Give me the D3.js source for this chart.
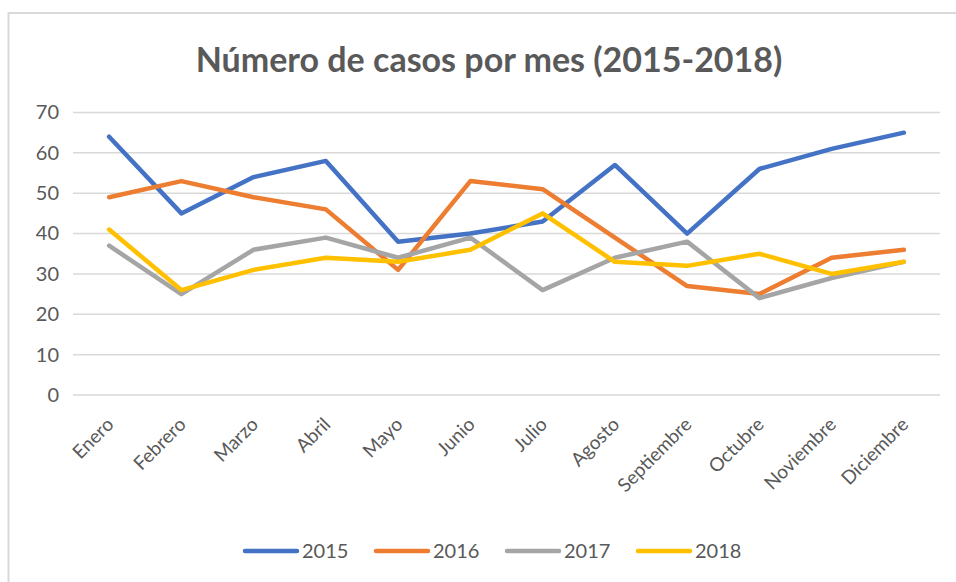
<!DOCTYPE html>
<html>
<head>
<meta charset="utf-8">
<script src="https://cdn.jsdelivr.net/npm/d3@7"></script>
<style>
  html, body { margin: 0; padding: 0; background: #fff; }
  svg { display: block; font-family: Lato, "Open Sans", sans-serif; }
</style>
</head>
<body>
<div id="chart"></div>
<script>
// data
const months = ["Enero", "Febrero", "Marzo", "Abril", "Mayo", "Junio", "Julio",
                "Agosto", "Septiembre", "Octubre", "Noviembre", "Diciembre"];
const years = ["2015", "2016", "2017", "2018"];
const values2015 = [64, 45, 54, 58, 38, 40, 43, 57, 40, 56, 61, 65];
const values2016 = [49, 53, 49, 46, 31, 53, 51, 39, 27, 25, 34, 36];
const values2017 = [37, 25, 36, 39, 34, 39, 26, 34, 38, 24, 29, 33];
const values2018 = [41, 26, 31, 34, 33, 36, 45, 33, 32, 35, 30, 33];
const yTicks = [0, 10, 20, 30, 40, 50, 60, 70];
const colors = ["#4472C4", "#ED7D31", "#A5A5A5", "#FFC000"];

const series = [values2015, values2016, values2017, values2018]
  .map((v, i) => ({ name: years[i], color: colors[i], values: v }));

const width = 956, height = 582;
const textColor = "#595959";

const svg = d3.select("#chart").append("svg")
  .attr("width", width)
  .attr("height", height);

// outer frame, runs off the right and bottom edges like the original
svg.append("rect")
  .attr("x", 8.5).attr("y", 13)
  .attr("width", 960).attr("height", 580)
  .attr("fill", "#fff")
  .attr("stroke", "#d9d9d9")
  .attr("stroke-width", 2);

// title
svg.append("text")
  .attr("x", 489).attr("y", 72)
  .attr("text-anchor", "middle")
  .attr("fill", textColor)
  .attr("font-size", 34)
  .attr("font-weight", "bold")
  .text("Número de casos por mes (2015-2018)");

// scales
const x = d3.scaleBand().domain(months).range([73, 940]);
const y = d3.scaleLinear().domain([0, 70]).range([395, 112.5]);
const cx = d => x(d) + x.bandwidth() / 2;

// horizontal gridlines
svg.append("g")
  .selectAll("line")
  .data(yTicks)
  .join("line")
  .attr("x1", 73).attr("x2", 940)
  .attr("y1", d => y(d)).attr("y2", d => y(d))
  .attr("stroke", "#d9d9d9")
  .attr("stroke-width", 1.5);

// y axis labels
const yAxis = svg.append("g")
  .attr("transform", "translate(59,0)")
  .call(d3.axisLeft(y).tickValues(yTicks).tickSize(0).tickPadding(0));
yAxis.select(".domain").remove();
yAxis.selectAll("text")
  .attr("fill", textColor)
  .attr("font-size", 20)
  .attr("font-family", "Lato, 'Open Sans', sans-serif");

// x axis labels, rotated
svg.append("g")
  .selectAll("text")
  .data(months)
  .join("text")
  .attr("transform", d => `translate(${cx(d) + 1},${421}) rotate(-45)`)
  .attr("text-anchor", "end")
  .attr("dy", "0.35em")
  .attr("fill", textColor)
  .attr("font-size", 19)
  .text(d => d);

// lines
const line = d3.line()
  .x((d, i) => cx(months[i]))
  .y(d => y(d));

svg.append("g")
  .selectAll("path")
  .data(series)
  .join("path")
  .attr("d", d => line(d.values))
  .attr("fill", "none")
  .attr("stroke", d => d.color)
  .attr("stroke-width", 4.5)
  .attr("stroke-linejoin", "round")
  .attr("stroke-linecap", "round");

// legend
const legendX = [245, 376, 507, 638];
const legend = svg.append("g")
  .selectAll("g")
  .data(series)
  .join("g")
  .attr("transform", (d, i) => `translate(${legendX[i]},551)`);
legend.append("line")
  .attr("x1", 0).attr("x2", 52)
  .attr("stroke", d => d.color)
  .attr("stroke-width", 4.5)
  .attr("stroke-linecap", "round");
legend.append("text")
  .attr("x", 57)
  .attr("dy", "0.35em")
  .attr("fill", textColor)
  .attr("font-size", 20)
  .text(d => d.name);
</script>
</body>
</html>
